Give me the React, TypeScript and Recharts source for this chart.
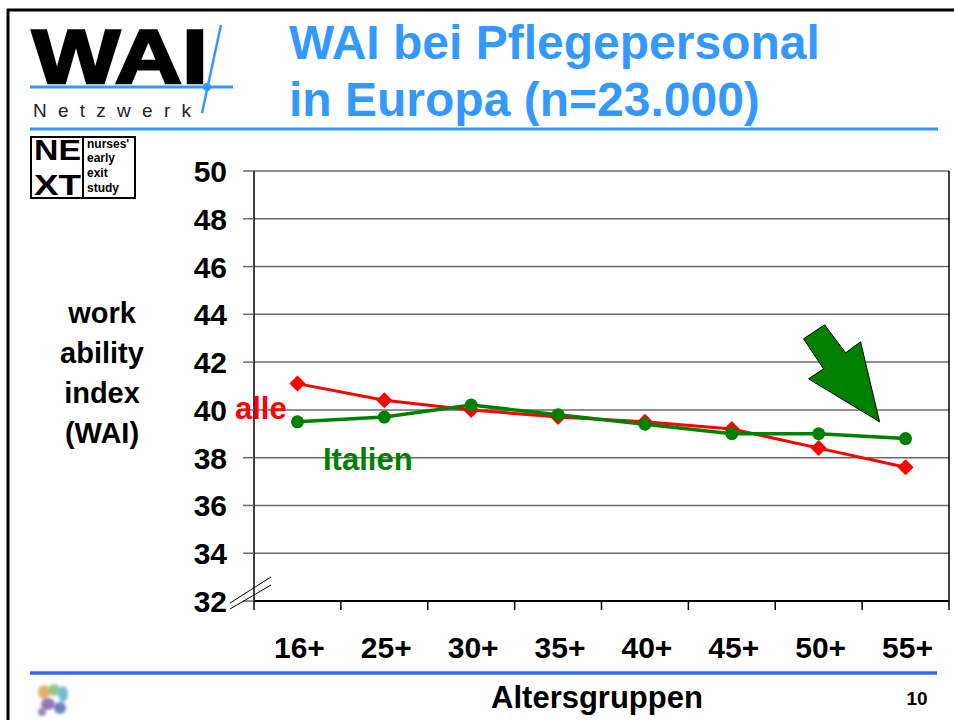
import React from "react";
import { LineChart, Line, XAxis, YAxis, CartesianGrid, ReferenceDot } from "recharts";

const ageGroups = ["16+", "25+", "30+", "35+", "40+", "45+", "50+", "55+"];
const alleValues = [41.1, 40.4, 40.0, 39.7, 39.5, 39.2, 38.4, 37.6];
const italienValues = [39.5, 39.7, 40.2, 39.8, 39.4, 39.0, 39.0, 38.8];
const yTicks = [32, 34, 36, 38, 40, 42, 44, 46, 48, 50];
const yAxisTitle = ["work", "ability", "index", "(WAI)"];

const data = ageGroups.map((g, i) => ({ group: g, alle: alleValues[i], italien: italienValues[i] }));

const W = 954;
const H = 720;
const margin = { top: 171, right: 5, bottom: 89, left: 194 };
const Y_AXIS_W = 60;
const X_AXIS_H = 30;
const PLOT_W = W - margin.left - margin.right - Y_AXIS_W;
const PLOT_H = H - margin.top - margin.bottom - X_AXIS_H;
const BAND = PLOT_W / ageGroups.length;
const TICK_SIZE = 11;
const TICK_MARGIN = 16;

const FONT = "'Liberation Sans', Arial, Helvetica, sans-serif";
const RED = "#ff0000";
const GREEN = "#008000";
const BLUE = "#3399ff";
const GRID = "#6a6a6a";

// category boundaries get the tick marks, labels sit in the middle
const XTick = (props: any) => {
  const { x, y, payload, index } = props;
  const half = BAND / 2;
  return (
    <g>
      <line x1={x - half} x2={x - half} y1={y} y2={y + 9} stroke="#000" strokeWidth={1.5} />
      {index === ageGroups.length - 1 && (
        <line x1={x + half} x2={x + half} y1={y - PLOT_H} y2={y + 9} stroke="#000" strokeWidth={1.5} />
      )}
      <text x={x + 2} y={y + 57} textAnchor="middle" fontFamily={FONT} fontWeight="bold" fontSize={30} fill="#000">
        {payload.value}
      </text>
    </g>
  );
};

const YTick = (props: any) => {
  const { x, y, payload } = props;
  const ax = x + TICK_SIZE + TICK_MARGIN;
  return (
    <g>
      {payload.value === 32 && (
        <g stroke="#000" strokeWidth={1}>
          <line x1={ax - 24} y1={y + 2} x2={ax + 17} y2={y - 24} />
          <line x1={ax - 24} y1={y + 8} x2={ax + 17} y2={y - 16} />
        </g>
      )}
      <text x={x} y={y} dy={11} textAnchor="end" fontFamily={FONT} fontWeight="bold" fontSize={30} fill="#000">
        {payload.value}
      </text>
    </g>
  );
};

const Diamond = (props: any) => {
  const { cx, cy } = props;
  const s = 8;
  return <polygon points={`${cx},${cy - s} ${cx + s},${cy} ${cx},${cy + s} ${cx - s},${cy}`} fill={RED} />;
};

const Arrow = (props: any) => {
  const { cx, cy } = props;
  const tx = cx - 26;
  const pts = [
    [-76, -83], [-55, -97], [-34, -69], [-19, -80], [0, 0], [-71, -43], [-56, -53],
  ]
    .map(([dx, dy]) => `${tx + dx},${cy + dy}`)
    .join(" ");
  return <polygon points={pts} fill={GREEN} stroke="#000" strokeWidth={1} />;
};

const Overlay = () => (
  <svg width={W} height={H} style={{ position: "absolute", left: 0, top: 0, pointerEvents: "none" }}>
    {/* slide frame */}
    <line x1={7} y1={10} x2={W} y2={10} stroke="#000" strokeWidth={3} />
    <line x1={8} y1={9} x2={8} y2={H} stroke="#000" strokeWidth={3} />

    {/* WAI Netzwerk logo */}
    <text x={32} y={83} fontFamily={FONT} fontWeight="bold" fontSize={76} fill="#000" stroke="#000" strokeWidth={2.5}
      textLength={176} lengthAdjust="spacingAndGlyphs">WAI</text>
    <line x1={30} y1={87} x2={233} y2={87} stroke={BLUE} strokeWidth={3} />
    <line x1={221} y1={25} x2={202} y2={113} stroke={BLUE} strokeWidth={2.5} />
    <circle cx={207} cy={87} r={4} fill={BLUE} />
    <text x={33} y={117} fontFamily={FONT} fontSize={19} fill="#222" textLength={158} lengthAdjust="spacing">Netzwerk</text>

    {/* NEXT logo */}
    <rect x={31} y={137} width={104} height={61} fill="none" stroke="#000" strokeWidth={2} />
    <line x1={83} y1={137} x2={83} y2={198} stroke="#000" strokeWidth={2} />
    <text x={34} y={160} fontFamily={FONT} fontWeight="bold" fontSize={29} fill="#000" textLength={47} lengthAdjust="spacingAndGlyphs">NE</text>
    <text x={34} y={195} fontFamily={FONT} fontWeight="bold" fontSize={29} fill="#000" textLength={47} lengthAdjust="spacingAndGlyphs">XT</text>
    <g fontFamily={FONT} fontWeight="bold" fontSize={12} fill="#000">
      <text x={87} y={148}>nurses'</text>
      <text x={87} y={162}>early</text>
      <text x={87} y={177}>exit</text>
      <text x={87} y={192}>study</text>
    </g>

    {/* title */}
    <g fontFamily={FONT} fontWeight="bold" fontSize={48} fill={BLUE}>
      <text x={289} y={59}>WAI bei Pflegepersonal</text>
      <text x={289} y={116}>in Europa (n=23.000)</text>
    </g>
    <line x1={30} y1={129} x2={938} y2={129} stroke={BLUE} strokeWidth={3} />

    {/* y axis title */}
    <g fontFamily={FONT} fontWeight="bold" fontSize={29} fill="#000" textAnchor="middle">
      {yAxisTitle.map((t, i) => (
        <text key={t} x={102} y={323 + i * 40}>{t}</text>
      ))}
    </g>

    {/* series labels */}
    <text x={235} y={419} fontFamily={FONT} fontWeight="bold" fontSize={31} fill={RED}>alle</text>
    <text x={323} y={470} fontFamily={FONT} fontWeight="bold" fontSize={31} fill={GREEN}>Italien</text>

    {/* footer */}
    <line x1={30} y1={673} x2={937} y2={673} stroke="#3366ff" strokeWidth={3.5} />
    <text x={597} y={708} textAnchor="middle" fontFamily={FONT} fontWeight="bold" fontSize={31} fill="#000">Altersgruppen</text>
    <text x={917} y={705} textAnchor="middle" fontFamily={FONT} fontWeight="bold" fontSize={19} fill="#000">10</text>

    {/* small emblem */}
    <defs>
      <filter id="soft" x="-50%" y="-50%" width="200%" height="200%">
        <feGaussianBlur stdDeviation="1.6" />
      </filter>
    </defs>
    <g filter="url(#soft)" opacity={0.85}>
      <ellipse cx={44} cy={692} rx={6} ry={7} fill="#e0a050" />
      <ellipse cx={54} cy={690} rx={6} ry={6} fill="#7cc070" />
      <ellipse cx={63} cy={694} rx={5} ry={8} fill="#60b0d0" />
      <ellipse cx={48} cy={704} rx={7} ry={6} fill="#8060a0" />
      <ellipse cx={60} cy={708} rx={6} ry={6} fill="#5070b0" />
      <ellipse cx={42} cy={712} rx={4} ry={4} fill="#9070a0" />
    </g>
  </svg>
);

export default function App() {
  return (
    <div style={{ position: "absolute", left: 0, top: 0, width: W, height: H, background: "#fff", overflow: "hidden" }}>
      <LineChart width={W} height={H} data={data} margin={margin}>
        <CartesianGrid horizontal vertical={false} stroke={GRID} strokeWidth={1.5} />
        <XAxis
          dataKey="group"
          height={X_AXIS_H}
          padding={{ left: BAND / 2, right: BAND / 2 }}
          axisLine={{ stroke: "#000", strokeWidth: 2 }}
          tickLine={false}
          tickSize={0}
          tickMargin={0}
          interval={0}
          tick={<XTick />}
        />
        <YAxis
          domain={[32, 50]}
          ticks={yTicks}
          width={Y_AXIS_W}
          interval={0}
          axisLine={{ stroke: "#000", strokeWidth: 1.5 }}
          tickLine={{ stroke: GRID, strokeWidth: 1.5 }}
          tickSize={TICK_SIZE}
          tickMargin={TICK_MARGIN}
          tick={<YTick />}
        />
        <Line
          type="linear"
          dataKey="alle"
          stroke={RED}
          strokeWidth={3}
          isAnimationActive={false}
          dot={(p: any) => <Diamond key={`a${p.index}`} {...p} />}
          activeDot={false}
        />
        <Line
          type="linear"
          dataKey="italien"
          stroke={GREEN}
          strokeWidth={3.5}
          isAnimationActive={false}
          dot={{ r: 6.5, fill: GREEN, stroke: GREEN, strokeWidth: 0 }}
          activeDot={false}
        />
        <ReferenceDot x="55+" y={39.5} r={0} ifOverflow="visible" shape={(p: any) => <Arrow {...p} />} />
      </LineChart>
      <Overlay />
    </div>
  );
}
